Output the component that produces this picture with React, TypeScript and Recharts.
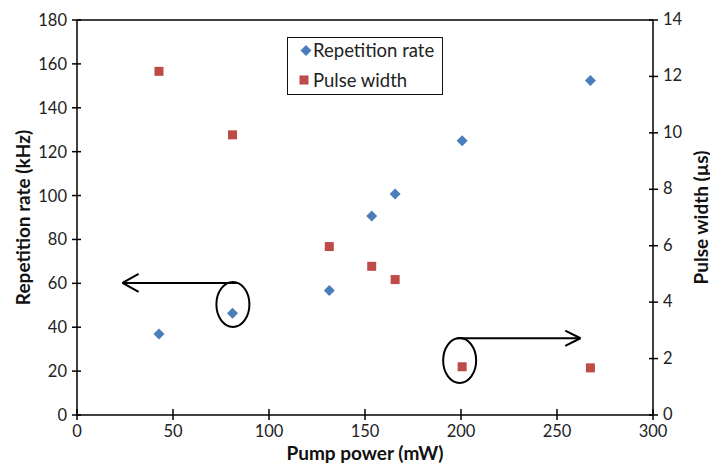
import React from 'react';
import {
  ScatterChart, Scatter, XAxis, YAxis, ReferenceLine, ReferenceDot, Legend, Label,
} from 'recharts';

const pumpPower = [42.7, 81, 131.4, 153.5, 165.7, 200.6, 267.4];
const repRate = [36.9, 46.4, 56.7, 90.7, 100.7, 125, 152.4];
const pulseWidth = [12.18, 9.93, 5.97, 5.27, 4.8, 1.71, 1.67];

const xTicks = [0, 50, 100, 150, 200, 250, 300];
const leftTicks = [0, 20, 40, 60, 80, 100, 120, 140, 160, 180];
const rightTicks = [0, 2, 4, 6, 8, 10, 12, 14];

const repData = pumpPower.map((x, i) => ({ x, y: repRate[i] }));
const pwData = pumpPower.map((x, i) => ({ x, y: pulseWidth[i] }));

const FONT = 'Lato, "Open Sans", sans-serif';
const BLUE = '#4A7EBB';
const RED = '#BE4B48';
const TICK_FS = 16.5;

const XTick = (p: any) => (
  <g>
    <line x1={p.x} x2={p.x} y1={p.y - 6} y2={p.y + 5} stroke="#000" strokeWidth={1.5} />
    <text x={p.x} y={p.y + 16} textAnchor="middle" dominantBaseline="central" fontFamily={FONT} fontSize={TICK_FS} fill="#222">
      {p.payload.value}
    </text>
  </g>
);

const LeftTick = (p: any) => (
  <g>
    <line x1={p.x - 5} x2={p.x + 4} y1={p.y} y2={p.y} stroke="#000" strokeWidth={1.5} />
    <text x={p.x - 10} y={p.y} textAnchor="end" dominantBaseline="central" fontFamily={FONT} fontSize={TICK_FS} fill="#222">
      {p.payload.value}
    </text>
  </g>
);

const RightTick = (p: any) => (
  <g>
    <line x1={p.x - 4} x2={p.x + 5} y1={p.y} y2={p.y} stroke="#000" strokeWidth={1.5} />
    <text x={p.x + 10} y={p.y - 1} textAnchor="start" dominantBaseline="central" fontFamily={FONT} fontSize={TICK_FS} fill="#222">
      {p.payload.value}
    </text>
  </g>
);

const Diamond = (p: any) => {
  const r = 5.5;
  return (
    <polygon
      points={`${p.cx},${p.cy - r} ${p.cx + r},${p.cy} ${p.cx},${p.cy + r} ${p.cx - r},${p.cy}`}
      fill={BLUE}
    />
  );
};

const Square = (p: any) => {
  const h = 4.5;
  return <rect x={p.cx - h} y={p.cy - h} width={2 * h} height={2 * h} fill={RED} />;
};

const Ellipse = (p: any) => (
  <ellipse cx={p.cx} cy={p.cy} rx={16.5} ry={22.5} fill="none" stroke="#000" strokeWidth={2} />
);

const LegendBox = () => (
  <div
    style={{
      width: 156, height: 58, boxSizing: 'border-box', border: '1.5px solid #111',
      background: '#fff', fontFamily: FONT, fontSize: 18.5, color: '#222', position: 'relative',
    }}
  >
    <svg width={20} height={58} style={{ position: 'absolute', left: 8, top: 0 }}>
      <polygon points="10,7 15.5,12.5 10,18 4.5,12.5" fill={BLUE} />
      <rect x={3.5} y={37.5} width={9} height={9} fill={RED} />
    </svg>
    <div style={{ position: 'absolute', left: 25, top: 1, lineHeight: '22px', whiteSpace: 'nowrap' }}>Repetition rate</div>
    <div style={{ position: 'absolute', left: 25, top: 31, lineHeight: '22px', whiteSpace: 'nowrap' }}>Pulse width</div>
  </div>
);

const titleStyle = { fontFamily: FONT, fontSize: 19, fontWeight: 700, fill: '#111' } as const;

export default function App() {
  return (
    <div style={{ position: 'absolute', left: 0, top: 0, background: '#fff' }}>
      <ScatterChart width={710} height={465} margin={{ top: 20, right: 0, bottom: 0, left: 0 }}>
        <XAxis
          type="number" dataKey="x" domain={[0, 300]} ticks={xTicks} xAxisId="x"
          height={50} tickSize={0} tickMargin={0} tickLine={false} tick={XTick}
          axisLine={{ stroke: '#000', strokeWidth: 1.5 }} interval={0}
        >
          <Label
            content={(lp: any) => (
              <text x={lp.viewBox.x + lp.viewBox.width / 2} y={lp.viewBox.y + 37} textAnchor="middle" dominantBaseline="central" style={titleStyle}>
                Pump power (mW)
              </text>
            )}
          />
        </XAxis>
        <YAxis
          yAxisId="left" type="number" dataKey="y" domain={[0, 180]} ticks={leftTicks}
          width={77} tickSize={0} tickMargin={0} tickLine={false} tick={LeftTick}
          axisLine={{ stroke: '#000', strokeWidth: 1.5 }} interval={0}
        >
          <Label
            content={(lp: any) => {
              const cx = lp.viewBox.x + 22;
              const cy = lp.viewBox.y + lp.viewBox.height / 2;
              return (
                <text x={cx} y={cy} transform={`rotate(-90 ${cx} ${cy})`} textAnchor="middle" dominantBaseline="central" style={titleStyle}>
                  Repetition rate (kHz)
                </text>
              );
            }}
          />
        </YAxis>
        <YAxis
          yAxisId="right" orientation="right" type="number" dataKey="y" domain={[0, 14]} ticks={rightTicks}
          width={57} tickSize={0} tickMargin={0} tickLine={false} tick={RightTick}
          axisLine={{ stroke: '#000', strokeWidth: 1.5 }} interval={0}
        >
          <Label
            content={(lp: any) => {
              const cx = lp.viewBox.x + 47;
              const cy = lp.viewBox.y + lp.viewBox.height / 2;
              return (
                <text x={cx} y={cy} transform={`rotate(-90 ${cx} ${cy})`} textAnchor="middle" dominantBaseline="central" style={titleStyle}>
                  Pulse width (µs)
                </text>
              );
            }}
          />
        </YAxis>

        <ReferenceLine xAxisId="x" yAxisId="left" y={180} stroke="#000" strokeWidth={1.5} />

        <Scatter name="Repetition rate" data={repData} xAxisId="x" yAxisId="left" shape={Diamond} isAnimationActive={false} />
        <Scatter name="Pulse width" data={pwData} xAxisId="x" yAxisId="right" shape={Square} isAnimationActive={false} />

        {/* Left annotation: ellipse + arrow to left axis */}
        <ReferenceDot xAxisId="x" yAxisId="left" x={81.2} y={50.4} shape={Ellipse} />
        <ReferenceLine xAxisId="x" yAxisId="left" segment={[{ x: 83.2, y: 60.2 }, { x: 23.7, y: 60.2 }]} stroke="#000" strokeWidth={2} />
        <ReferenceLine xAxisId="x" yAxisId="left" segment={[{ x: 23.7, y: 60.2 }, { x: 32.1, y: 64.3 }]} stroke="#000" strokeWidth={2} />
        <ReferenceLine xAxisId="x" yAxisId="left" segment={[{ x: 23.7, y: 60.2 }, { x: 32.1, y: 56.1 }]} stroke="#000" strokeWidth={2} />

        {/* Right annotation: ellipse + arrow to right axis */}
        <ReferenceDot xAxisId="x" yAxisId="right" x={199.3} y={1.93} shape={Ellipse} />
        <ReferenceLine xAxisId="x" yAxisId="right" segment={[{ x: 198, y: 2.72 }, { x: 262.2, y: 2.72 }]} stroke="#000" strokeWidth={2} />
        <ReferenceLine xAxisId="x" yAxisId="right" segment={[{ x: 262.2, y: 2.72 }, { x: 254.3, y: 2.99 }]} stroke="#000" strokeWidth={2} />
        <ReferenceLine xAxisId="x" yAxisId="right" segment={[{ x: 262.2, y: 2.72 }, { x: 254.3, y: 2.45 }]} stroke="#000" strokeWidth={2} />

        <Legend
          layout="vertical" align="center" verticalAlign="middle"
          wrapperStyle={{ position: 'absolute', left: 287, top: 37, width: 156, height: 58 }}
          content={() => <LegendBox />}
        />
      </ScatterChart>
    </div>
  );
}
